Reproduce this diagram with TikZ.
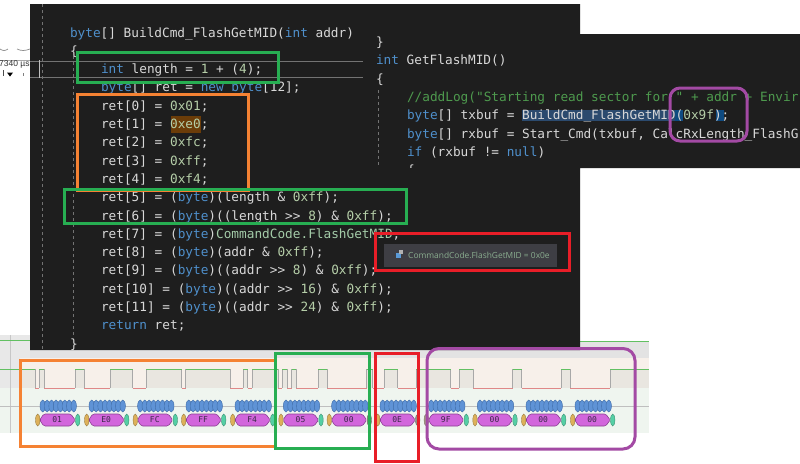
\documentclass[tikz,border=0pt]{standalone}
\usepackage{fontspec}
\setmonofont{DejaVu Sans Mono}
\setsansfont{Liberation Sans}
\newfontfamily\tipfont{Open Sans}
\definecolor{panel}{HTML}{1E1E1E}
\definecolor{kwc}{HTML}{4F90CC}
\definecolor{plainc}{HTML}{D8D8D8}
\definecolor{numc}{HTML}{B5CEA8}
\definecolor{cmtc}{HTML}{4E9A4E}
\definecolor{typec}{HTML}{A3CBA8}
\definecolor{hiorange}{HTML}{F58233}
\definecolor{higreen}{HTML}{27AE52}
\definecolor{hired}{HTML}{E81E28}
\definecolor{hipurple}{HTML}{A34AA4}
\definecolor{sigbg}{HTML}{F7F0EA}
\definecolor{highbg}{HTML}{E9E6E0}
\definecolor{datbg}{HTML}{EFF5EF}
\definecolor{ochre}{HTML}{DDB15A}
\definecolor{mint}{HTML}{55CFA5}
\definecolor{tanx}{HTML}{A89F88}
\definecolor{greyx}{HTML}{8E9488}
\definecolor{sighigh}{HTML}{62C062}
\definecolor{siglow}{HTML}{E08888}
\definecolor{sigedge}{HTML}{A8A8A8}
\definecolor{beadfill}{HTML}{5F93D6}
\definecolor{beadline}{HTML}{3F6CA8}
\definecolor{pillfill}{HTML}{D266DC}
\definecolor{pillline}{HTML}{8A3F92}
\definecolor{pilltext}{HTML}{3A2A48}
\definecolor{brownhl}{HTML}{6B3C08}
\definecolor{selhl}{HTML}{2B4A6E}
\definecolor{brkhl}{HTML}{0E4A80}
\definecolor{tipbg}{HTML}{3E3E44}
\definecolor{tipicon}{HTML}{5A9AD8}
\newcommand\kw[1]{\textcolor{kwc}{#1}}
\newcommand\cn[1]{\textcolor{numc}{#1}}
\newcommand\cm[1]{\textcolor{cmtc}{#1}}
\newcommand\ty[1]{\textcolor{typec}{#1}}
\tikzset{
  codetxt/.style={anchor=base west,inner sep=0pt,outer sep=0pt,text=plainc,font=\ttfamily\fontsize{12.75}{14}\selectfont},
  hibox/.style={draw=#1,line width=3pt,fill=none},
  guide/.style={draw=#1,line width=0.8pt,dash pattern=on 3pt off 3pt},
  sigseg/.style={draw=#1,line width=1pt},
  bytelbl/.style={inner sep=0pt,text=pilltext,font=\ttfamily\fontsize{8}{9}\selectfont}
}
\begin{document}
\begin{tikzpicture}[x=1pt,y=-1pt]
\useasboundingbox (0,0) rectangle (800,463);
\fill[white] (0,0) rectangle (800,463);
% analyser panel
\fill[black!9] (0,335) rectangle (30,358);
\fill[black!11] (30,350) rectangle (649,358);
\fill[black!11] (580,341) rectangle (649,358);
\fill[sigbg] (20,358) rectangle (649,388);
\fill[black!9] (0,358) rectangle (20,388);
\fill[datbg] (0,388) rectangle (649,433);
\foreach \a/\b in {20/35,39.3/44,75.3/84,110.3/132.7,146/181.7,185.7/230,243/247.7,252.3/278.3,282.3/287.3,291.7/296.3,318.3/327.3,366.7/372.7,384.3/397.7,416/450.7,459.3/473.3,512.7/521.7,561/570,610/649}
  \fill[highbg] (\a,369) rectangle (\b,388);
\draw[black!22,line width=0.8pt] (10,335) -- (10,433);
\draw[black!25,line width=0.8pt] (0,406) -- (649,406);
\draw[sigseg=sighigh] (0,340) -- (30,340);
\draw[sigseg=sighigh] (580,341) -- (649,341);
% signal
\foreach \a in {35,39.3,44,75.3,84,110.3,132.7,146,181.7,185.7,230,243,247.7,252.3,278.3,282.3,287.3,291.7,296.3,318.3,327.3,366.7,372.7,384.3,397.7,416,450.7,459.3,473.3,512.7,521.7,561,570,610}
  \draw[sigseg=sigedge] (\a,369) -- (\a,388);
\foreach \a/\b in {0/35,39.3/44,75.3/84,110.3/132.7,146/181.7,185.7/230,243/247.7,252.3/278.3,282.3/287.3,291.7/296.3,318.3/327.3,366.7/372.7,384.3/397.7,416/450.7,459.3/473.3,512.7/521.7,561/570,610/649}
  \draw[sigseg=sighigh] (\a,369) -- (\b,369);
\foreach \a/\b in {35/39.3,44/75.3,84/110.3,132.7/146,181.7/185.7,230/243,247.7/252.3,278.3/282.3,287.3/291.7,296.3/318.3,327.3/366.7,372.7/384.3,397.7/416,450.7/459.3,473.3/512.7,521.7/561,570/610}
  \draw[sigseg=siglow] (\a,388) -- (\b,388);
% decoded bytes
\foreach \c/\t/\lc/\rc [count=\i] in {56.7/01/ochre/mint,105.7/E0/ochre/mint,154.3/FC/ochre/mint,202.7/FF/ochre/mint,251.7/F4/ochre/mint,300/05/ochre/mint,348.3/00/ochre/greyx,396.7/0E/ochre/greyx,445.3/9F/tanx/mint,494/00/ochre/mint,542.7/00/ochre/mint,591.7/00/ochre/mint}{
  \foreach \k in {0,...,7}
    \draw[draw=beadline,fill=beadfill,line width=0.4pt] (\c-14+\k*4.43,406) ellipse [x radius=2.7,y radius=6];
  \draw[draw=\lc!70!black,fill=\lc,line width=0.4pt] (\c-19,420) ellipse [x radius=2.2,y radius=6];
  \draw[draw=\rc!70!black,fill=\rc,line width=0.4pt] (\c+21,420) ellipse [x radius=2.2,y radius=6];
  \draw[draw=pillline,fill=pillfill,line width=0.6pt,rounded corners=1.5pt]
    (\c-17,420) -- (\c-13,414) -- (\c+14,414) -- (\c+18.5,420) -- (\c+14,426) -- (\c-13,426) -- cycle;
  \node[bytelbl] (byte\i) at (\c+0.5,420) {\t};
}
% left scrap of timeline
\draw[black!35,line width=0.7pt] (0,60) -- (30,60);
\draw[black!45,line width=0.7pt] (0,49) .. controls (3,51) and (5,51) .. (8,49);
\draw[black!45,line width=0.7pt] (17,49) .. controls (21,51) and (25,51) .. (30,49);
\node[anchor=base west,inner sep=0pt,text=black!80,font=\sffamily\fontsize{8.5}{9}\selectfont] (timelbl) at (-1,66) {7340 µs};
\draw[black!70,line width=0.7pt] (3,70) -- (3,76);
\fill[black] (7,72.5) -- (13,72.5) -- (10,76.5) -- cycle;
\draw[black!50,line width=0.7pt] (23.5,73) -- (23.5,76);
% code panel
\fill[panel] (30,4) -- (580,4) -- (580,34) -- (800,34) -- (800,168) -- (580,168) -- (580,350) -- (30,350) -- cycle;
\draw[black!55,line width=1pt] (30,61) -- (363,61);
\draw[black!55,line width=1pt] (30,77) -- (363,77);
\draw[black!25,line width=0.8pt] (39.5,60) -- (39.5,78);
\draw[guide=black!55] (42.5,4) -- (42.5,350);
\draw[guide=black!55] (73,56) -- (73,338);
\draw[guide=black!55] (378,90) -- (378,165);
% highlights
\fill[brownhl] (171,116) rectangle (201,133);
\fill[selhl] (522,110) rectangle (675,121);
\fill[brkhl] (675,110) rectangle (683,121);
\fill[brkhl] (716,110) rectangle (724,121);
% left function
\node[codetxt] (l0) at (70,37) {\kw{byte}[] BuildCmd\_FlashGetMID(\kw{int} addr)};
\node[codetxt] (l1) at (70,55.3) {\{};
\node[codetxt] (l2) at (101,73.6) {\kw{int} length = \cn{1} + (\cn{4});};
\node[codetxt] (l3) at (101,91.9) {\kw{byte}[] ret = \kw{new} \kw{byte}[12];};
\node[codetxt] (l4) at (101,110.2) {ret[0] = \cn{0x01};};
\node[codetxt] (l5) at (101,128.5) {ret[1] = \cn{0xe0};};
\node[codetxt] (l6) at (101,146.8) {ret[2] = \cn{0xfc};};
\node[codetxt] (l7) at (101,165.1) {ret[3] = \cn{0xff};};
\node[codetxt] (l8) at (101,183.4) {ret[4] = \cn{0xf4};};
\node[codetxt] (l9) at (101,201.7) {ret[5] = (\kw{byte})(length \& \cn{0xff});};
\node[codetxt] (l10) at (101,220) {ret[6] = (\kw{byte})((length >{}> \cn{8}) \& \cn{0xff});};
\node[codetxt] (l11) at (101,238.3) {ret[7] = (\kw{byte})\ty{CommandCode.FlashGetMID},};
\node[codetxt] (l12) at (101,256.6) {ret[8] = (\kw{byte})(addr \& \cn{0xff});};
\node[codetxt] (l13) at (101,274.9) {ret[9] = (\kw{byte})((addr >{}> \cn{8}) \& \cn{0xff});};
\node[codetxt] (l14) at (101,293.2) {ret[10] = (\kw{byte})((addr >{}> \cn{16}) \& \cn{0xff});};
\node[codetxt] (l15) at (101,311.5) {ret[11] = (\kw{byte})((addr >{}> \cn{24}) \& \cn{0xff});};
\node[codetxt] (l16) at (101,329.8) {\kw{return} ret;};
\node[codetxt] (l17) at (70,348.1) {\}};
% right function
\node[codetxt] (r0) at (376,46) {\}};
\node[codetxt] (r1) at (376,64.5) {\kw{int} GetFlashMID()};
\node[codetxt] (r2) at (376,83) {\{};
\node[codetxt] (r3) at (407,101.5) {\cm{//addLog("Starting read sector for " + addr + Envir}};
\node[codetxt] (r4) at (407,119.5) {\kw{byte}[] txbuf = BuildCmd\_FlashGetMID(\cn{0x9f});};
\node[codetxt] (r5) at (407,138) {\kw{byte}[] rxbuf = Start\_Cmd(txbuf, CalcRxLength\_FlashG};
\node[codetxt] (r6) at (407,156) {\kw{if} (rxbuf != \kw{null})};
\begin{scope}
\clip (370,150) rectangle (580,167.5);
\node[codetxt] (r7) at (407,174.5) {\{};
\end{scope}
% tooltip
\fill[tipbg] (384,244) rectangle (557,267);
\fill[tipicon] (396,253) rectangle (401,258);
\fill[black!30] (399,250) rectangle (403,254);
\node[anchor=base west,inner sep=0pt,text=typec!85!black,font=\tipfont\fontsize{8.4}{10}\selectfont] (tip) at (408,258.5) {CommandCode.FlashGetMID = 0x0e};
% coloured frames
\draw[hibox=higreen] (77,52) rectangle (278,82);
\draw[hibox=hiorange] (77,94) rectangle (248,190);
\draw[hibox=higreen] (64,189) rectangle (406,223);
\draw[hibox=hired] (375,233) rectangle (569,270);
\draw[hibox=hipurple,rounded corners=10pt] (670,88) rectangle (747,141);
\draw[hibox=hiorange] (20.5,360) rectangle (275,446.5);
\draw[hibox=higreen] (275,353.5) rectangle (369.5,448);
\draw[hibox=hired] (375,353.5) rectangle (418,461.5);
\draw[hibox=hipurple,rounded corners=12pt] (427,348.5) rectangle (635,449);
\end{tikzpicture}
\end{document}
